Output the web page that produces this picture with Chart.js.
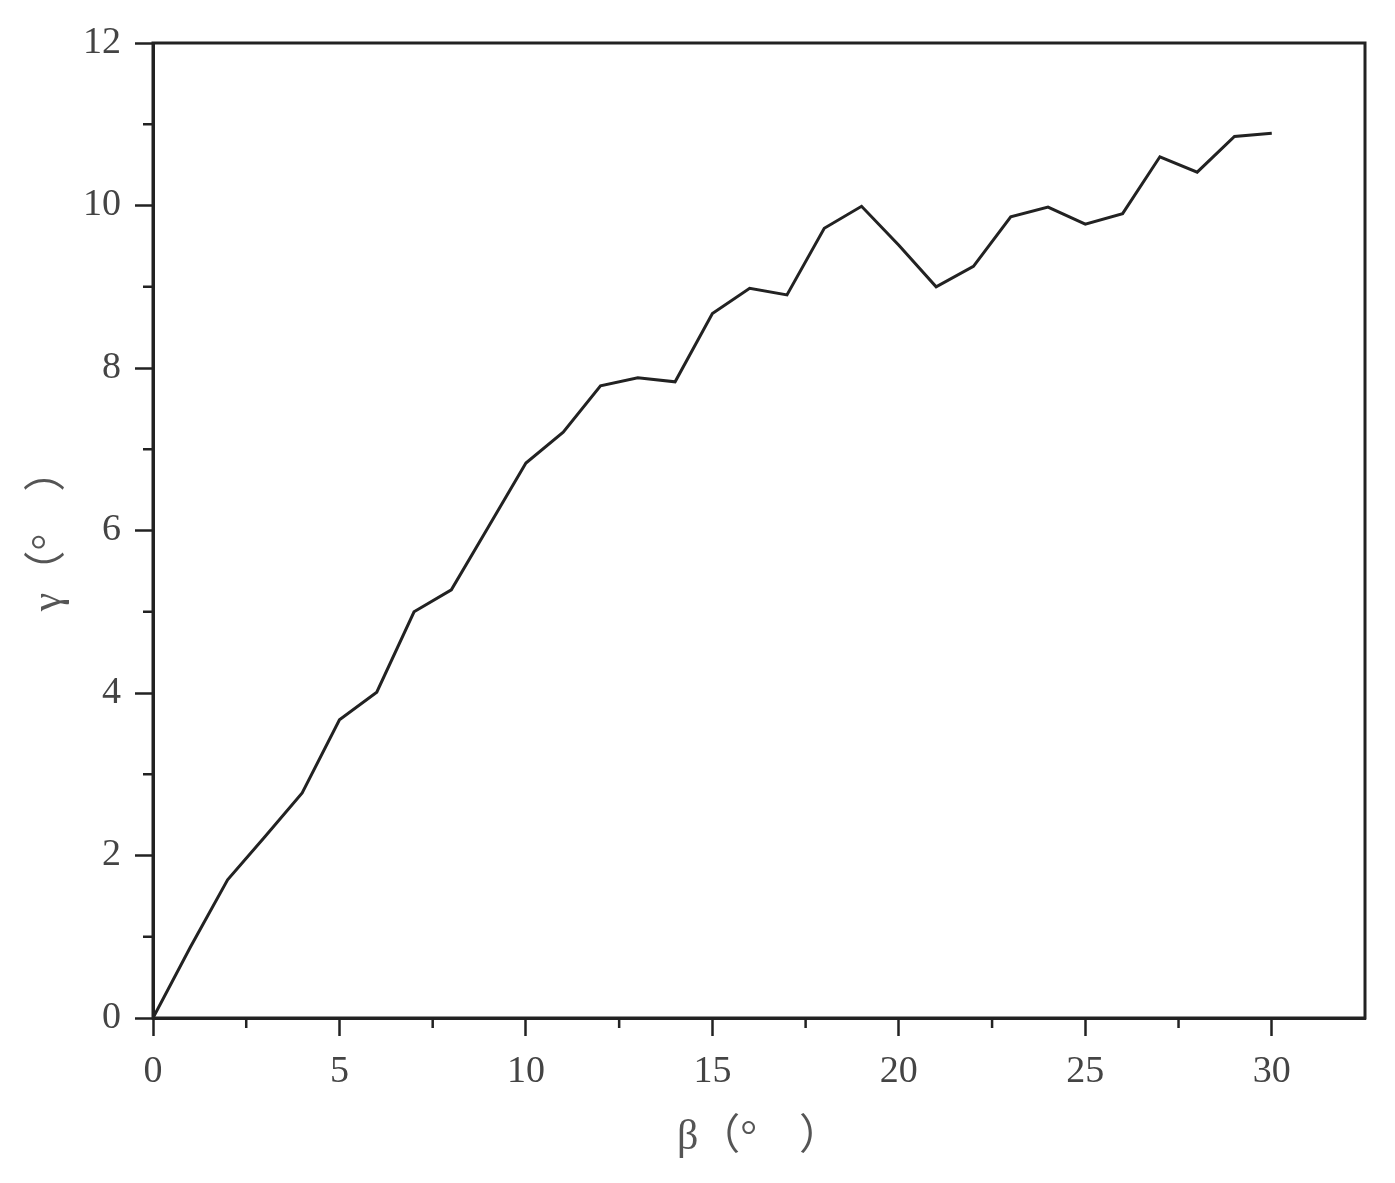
<!DOCTYPE html>
<html>
<head>
<meta charset="utf-8">
<script src="https://cdn.jsdelivr.net/npm/chart.js@4"></script>
<style>
  html, body { margin: 0; padding: 0; background: #fff; }
  #wrap { width: 1395px; height: 1183px; }
</style>
</head>
<body>
<div id="wrap"><canvas id="gammaChart" width="1395" height="1183"></canvas></div>
<script>
// beta (deg) vs gamma (deg)
const betaValues = [0, 1, 2, 3, 4, 5, 6, 7, 8, 9, 10, 11, 12, 13, 14, 15,
    16, 17, 18, 19, 20, 21, 22, 23, 24, 25, 26, 27, 28, 29, 30];
const gammaValues = [0, 0.87, 1.70, 2.23, 2.77, 3.67, 4.01, 5.00, 5.27, 6.05, 6.83,
    7.21, 7.78, 7.88, 7.83, 8.67, 8.98, 8.90, 9.72, 9.99, 9.51, 9.00, 9.25,
    9.86, 9.98, 9.77, 9.90, 10.60, 10.41, 10.85, 10.89];

const xMajorTicks = [0, 5, 10, 15, 20, 25, 30];
const xMinorTicks = [2.5, 7.5, 12.5, 17.5, 22.5, 27.5];
const yMajorTicks = [0, 2, 4, 6, 8, 10, 12];
const yMinorTicks = [1, 3, 5, 7, 9, 11];

const axisColor = '#222';
const serif = '"Liberation Serif", "Noto Sans CJK SC", serif';

// box round the plot + short minor ticks (major ones come from the grid)
const frameAndMinor = {
    id: 'frameAndMinor',
    afterDraw(chart) {
        const ctx = chart.ctx;
        const a = chart.chartArea;
        const xs = chart.scales.x, ys = chart.scales.y;
        ctx.save();
        ctx.strokeStyle = axisColor;
        ctx.lineWidth = 3;
        ctx.strokeRect(a.left, a.top, a.right - a.left, a.bottom - a.top);
        ctx.lineWidth = 2.5;
        ctx.beginPath();
        xMinorTicks.forEach(v => {
            const px = xs.getPixelForValue(v);
            ctx.moveTo(px, a.bottom);
            ctx.lineTo(px, a.bottom + 10);
        });
        yMinorTicks.forEach(v => {
            const py = ys.getPixelForValue(v);
            ctx.moveTo(a.left, py);
            ctx.lineTo(a.left - 10, py);
        });
        ctx.stroke();
        ctx.restore();
    }
};

new Chart('gammaChart', {
    type: 'line',
    data: {
        datasets: [{
            data: betaValues.map((b, i) => ({ x: b, y: gammaValues[i] })),
            borderColor: '#222',
            borderWidth: 3,
            pointRadius: 0,
            tension: 0,
            fill: false
        }]
    },
    options: {
        responsive: false,
        animation: false,
        layout: { padding: { top: 43, right: 30, left: 0, bottom: 0 } },
        plugins: { legend: { display: false }, tooltip: { enabled: false } },
        scales: {
            x: {
                type: 'linear',
                min: 0,
                max: 32.5,
                afterBuildTicks: s => { s.ticks = xMajorTicks.map(v => ({ value: v })); },
                afterFit: s => { s.height = 165; },
                grid: { drawOnChartArea: false, tickLength: 18, tickWidth: 2.5, tickColor: axisColor },
                border: { color: axisColor, width: 3 },
                ticks: { color: '#444', padding: 13, font: { family: serif, size: 38 } },
                title: {
                    display: true,
                    text: 'β（°　）',
                    color: '#555',
                    padding: { top: 0, bottom: 20 },
                    font: { family: serif, size: 42 }
                }
            },
            y: {
                min: 0,
                max: 12,
                afterBuildTicks: s => { s.ticks = yMajorTicks.map(v => ({ value: v })); },
                afterFit: s => { s.width = 153; },
                grid: { drawOnChartArea: false, tickLength: 18, tickWidth: 2.5, tickColor: axisColor },
                border: { color: axisColor, width: 3 },
                ticks: { color: '#444', padding: 14, font: { family: serif, size: 38 } },
                title: {
                    display: true,
                    text: 'γ（°　）',
                    color: '#555',
                    padding: { top: 24, bottom: 0 },
                    font: { family: serif, size: 42 }
                }
            }
        }
    },
    plugins: [frameAndMinor]
});
</script>
</body>
</html>
